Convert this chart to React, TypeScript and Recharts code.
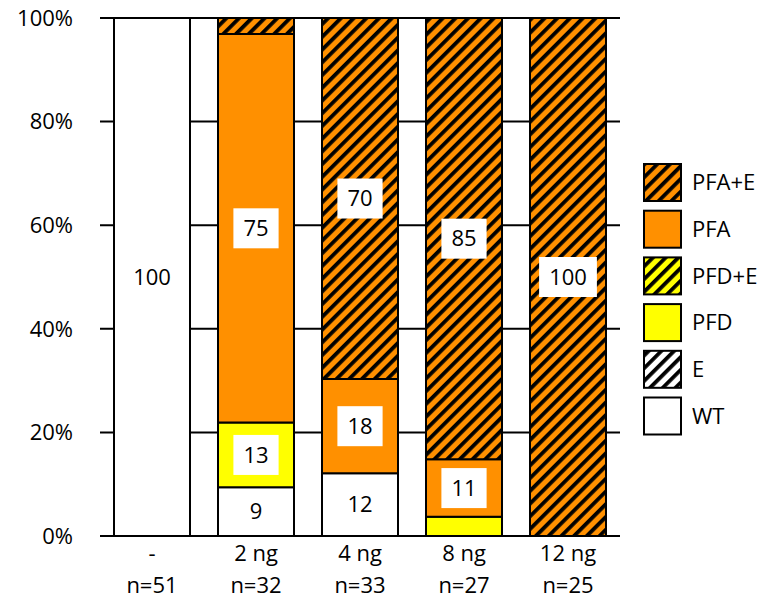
import React from "react";
import { Bar, BarChart, CartesianGrid, LabelList, XAxis, YAxis } from "recharts";

const categories = ["-", "2 ng", "4 ng", "8 ng", "12 ng"];
const sampleSizes = ["n=51", "n=32", "n=33", "n=27", "n=25"];
const wtValues = [100, 9.4, 12.1, 0, 0];
const eValues = [0, 0, 0, 0, 0];
const pfdValues = [0, 12.5, 0, 3.7, 0];
const pfdEValues = [0, 0, 0, 0, 0];
const pfaValues = [0, 75, 18.2, 11.1, 0];
const pfaEValues = [0, 3.1, 69.7, 85.2, 100];
const yTicks = [0, 20, 40, 60, 80, 100];

const ORANGE = "#FF9000";
const YELLOW = "#FFFF00";
const FONT = "'Open Sans', sans-serif";

const data = categories.map((name, i) => ({
	name,
	n: sampleSizes[i],
	WT: wtValues[i],
	E: eValues[i],
	PFD: pfdValues[i],
	"PFD+E": pfdEValues[i],
	PFA: pfaValues[i],
	"PFA+E": pfaEValues[i],
}));

// bottom to top
const series = [
	{ key: "WT", fill: "#ffffff" },
	{ key: "E", fill: "url(#hatch-white)" },
	{ key: "PFD", fill: YELLOW },
	{ key: "PFD+E", fill: "url(#hatch-yellow)" },
	{ key: "PFA", fill: ORANGE },
	{ key: "PFA+E", fill: "url(#hatch-orange)" },
];

const Hatch = ({ id, color }: { id: string; color: string }) => (
	<pattern
		id={id}
		patternUnits="userSpaceOnUse"
		width={9}
		height={9}
		patternTransform="rotate(45)"
	>
		<rect width={9} height={9} fill={color} />
		<rect width={3.8} height={9} fill="#000" />
	</pattern>
);

const SegmentLabel = (props: any) => {
	const { x, y, width, height, value } = props;
	if (value == null || value < 5) return null;
	const txt = String(Math.round(value));
	const w = txt.length * 12.6 + 20;
	const cx = x + width / 2;
	const cy = y + height / 2;
	return (
		<g>
			<rect x={cx - w / 2} y={cy - 20} width={w} height={40} fill="#fff" />
			<text
				x={cx}
				y={cy}
				dy="0.35em"
				textAnchor="middle"
				fontFamily={FONT}
				fontSize={22}
				fill="#000"
			>
				{txt}
			</text>
		</g>
	);
};

const CategoryTick = (props: any) => {
	const { x, y, payload } = props;
	const i = categories.indexOf(payload.value);
	return (
		<g>
			<text x={x} y={y + 17} textAnchor="middle" fontFamily={FONT} fontSize={22} fill="#000">
				{payload.value}
			</text>
			<text x={x} y={y + 49} textAnchor="middle" fontFamily={FONT} fontSize={22} fill="#000">
				{sampleSizes[i]}
			</text>
		</g>
	);
};

const SideLegend = () => {
	const items = [...series].reverse();
	return (
		<svg
			width={120}
			height={290}
			style={{ position: "absolute", left: 643, top: 163 }}
		>
			<defs>
				<Hatch id="lg-hatch-orange" color={ORANGE} />
				<Hatch id="lg-hatch-yellow" color={YELLOW} />
				<Hatch id="lg-hatch-white" color="#ffffff" />
			</defs>
			{items.map((s, i) => {
				const top = 1 + i * 46.7;
				return (
					<g key={s.key}>
						<rect
							x={1}
							y={top}
							width={37}
							height={37}
							fill={s.fill.replace("url(#", "url(#lg-")}
							stroke="#000"
							strokeWidth={2}
						/>
						<text
							x={49}
							y={top + 18.5}
							dy="0.35em"
							fontFamily={FONT}
							fontSize={22}
							fill="#000"
						>
							{s.key}
						</text>
					</g>
				);
			})}
		</svg>
	);
};

const App = () => {
	return (
		<div
			style={{
				position: "absolute",
				left: 0,
				top: 0,
				width: 763,
				height: 598,
				fontFamily: FONT,
			}}
		>
			<BarChart
				width={763}
				height={598}
				data={data}
				margin={{ top: 18, right: 143, bottom: 2, left: 20 }}
				barCategoryGap={14}
			>
				<defs>
					<Hatch id="hatch-orange" color={ORANGE} />
					<Hatch id="hatch-yellow" color={YELLOW} />
					<Hatch id="hatch-white" color="#ffffff" />
				</defs>
				<CartesianGrid vertical={false} stroke="#000" strokeWidth={2} />
				<XAxis
					dataKey="name"
					height={60}
					tickLine={false}
					axisLine={{ stroke: "#000", strokeWidth: 2 }}
					tick={<CategoryTick />}
					interval={0}
				/>
				<YAxis
					width={80}
					domain={[0, 100]}
					ticks={yTicks}
					tickFormatter={(v) => `${v}%`}
					tickLine={false}
					axisLine={false}
					tickMargin={21}
					tick={{ fontSize: 22, fill: "#000", fontFamily: FONT }}
				/>
				{series.map((s) => (
					<Bar
						key={s.key}
						dataKey={s.key}
						stackId="a"
						fill={s.fill}
						stroke="#000"
						strokeWidth={2}
						isAnimationActive={false}
					>
						<LabelList dataKey={s.key} content={<SegmentLabel />} />
					</Bar>
				))}
			</BarChart>
			<SideLegend />
		</div>
	);
};

export default App;
